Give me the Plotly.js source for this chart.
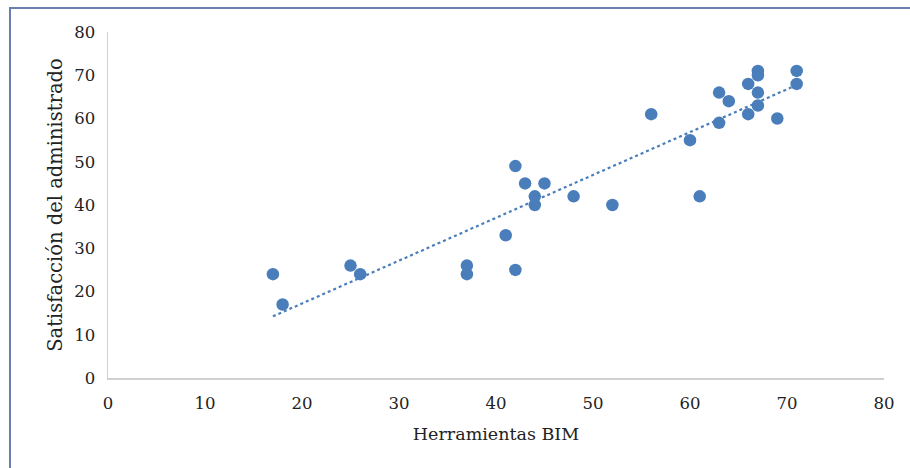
<!DOCTYPE html>
<html>
<head>
<meta charset="utf-8">
<script src="https://cdn.plot.ly/plotly-3.0.1.min.js"></script>
<style>
html,body{margin:0;padding:0;background:#fff;}
#wrap{position:relative;width:910px;height:468px;overflow:hidden;}
#frame{position:absolute;left:9px;top:7px;width:920px;height:480px;border-left:2px solid #6a7fae;border-top:2px solid #6a7fae;box-sizing:border-box;pointer-events:none;}
#chart{position:absolute;left:0;top:0;width:910px;height:468px;}
</style>
</head>
<body>
<div id="wrap">
<div id="chart"></div>
<div id="frame"></div>
</div>
<script>
const herramientasBIM = [17,18,25,26,37,37,41,42,42,43,44,44,45,48,52,56,60,61,63,63,64,66,66,67,67,67,67,69,71,71];
const satisfaccion   = [24,17,26,24,26,24,33,49,25,45,42,40,45,42,40,61,55,42,66,59,64,68,61,71,70,66,63,60,71,68];
const tickVals = [0,10,20,30,40,50,60,70,80];

// least-squares linear trendline (as in the original spreadsheet chart)
const n = herramientasBIM.length;
const mx = herramientasBIM.reduce((a,b)=>a+b,0)/n;
const my = satisfaccion.reduce((a,b)=>a+b,0)/n;
let sxy=0, sxx=0;
for(let i=0;i<n;i++){sxy+=(herramientasBIM[i]-mx)*(satisfaccion[i]-my);sxx+=(herramientasBIM[i]-mx)**2;}
const slope = sxy/sxx, intercept = my - slope*mx;
const xmin = Math.min(...herramientasBIM), xmax = Math.max(...herramientasBIM);
const trendX = [xmin, xmax];
const trendY = trendX.map(x=>intercept+slope*x);

const font = "'DejaVu Serif', 'Liberation Serif', serif";
const data = [
  {x: trendX, y: trendY, mode:'lines', line:{color:'#4a7ebb', width:2.2, dash:'dot'}, hoverinfo:'skip', showlegend:false},
  {x: herramientasBIM, y: satisfaccion, mode:'markers', marker:{color:'#4a7ebb', size:12.5, line:{width:0}}, showlegend:false}
];
const layout = {
  width:910, height:468,
  margin:{l:108, r:26, t:32, b:90},
  paper_bgcolor:'#fff', plot_bgcolor:'#fff',
  font:{family:font, size:16, color:'#222'},
  xaxis:{range:[0,80], tickvals:tickVals, showgrid:false, zeroline:false, showline:true, linecolor:'#d0d0d0', linewidth:1.5, ticks:'', ticklen:0,
    ticklabelstandoff:10,
    tickfont:{family:font,size:16.5,color:'#222'}, title:{text:'Herramientas BIM', font:{family:font,size:17.5,color:'#222'}, standoff:15}},
  yaxis:{range:[0,80], tickvals:tickVals, showgrid:false, zeroline:false, showline:true, linecolor:'#d0d0d0', linewidth:1.5, ticks:'', ticklen:0,
    ticklabelstandoff:8,
    tickfont:{family:font,size:16.5,color:'#222'}, title:{text:'Satisfacción del administrado', font:{family:font,size:19.5,color:'#222'}, standoff:6}}
};
Plotly.newPlot('chart', data, layout, {displayModeBar:false, staticPlot:true});
</script>
</body>
</html>
